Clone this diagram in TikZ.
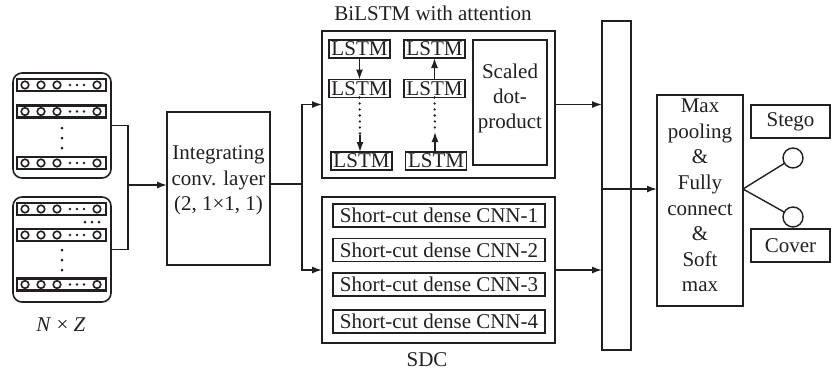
\documentclass[tikz,border=0pt]{standalone}
\usepackage{fontspec}
\setmainfont{Liberation Serif}
\usetikzlibrary{arrows.meta}
\definecolor{ink}{RGB}{35,31,32}
\begin{document}
\begin{tikzpicture}[x=1pt,y=-1pt,
  every node/.style={inner sep=0pt,outer sep=0pt,text=ink,font=\fontsize{21}{25.5}\selectfont},
  box/.style={draw=ink,line width=1.4pt,rectangle},
  tbox/.style={draw=ink,line width=1.9pt,rectangle},
  lstm/.style={draw=ink,line width=1.7pt,rectangle,minimum width=61pt,minimum height=18pt},
  cnn/.style={draw=ink,line width=1.7pt,rectangle,minimum width=212pt,minimum height=23pt},
  conn/.style={draw=ink,line width=1.4pt},
  arr/.style={conn,-{Latex[length=10pt,width=7pt]}},
  dots/.style={draw=ink,line width=2.6pt,line cap=round,dash pattern=on 0pt off 6pt},
  rowbox/.style={draw=ink,line width=2.1pt},
  cell/.style={draw=ink,line width=1.6pt},
  dotc/.style={fill=ink}
]
\useasboundingbox (0,0) rectangle (831,373);

% input matrices
\node[draw=ink,line width=1.6pt,rounded corners=9pt,minimum width=98pt,minimum height=105pt] (m1) at (62,125.5) {};
\node[draw=ink,line width=1.6pt,rounded corners=9pt,minimum width=98pt,minimum height=105pt] (m2) at (62,249.5) {};
\foreach \y in {85,111.5,163,209,235,284.5}{
  \draw[rowbox] (17,\y-6) rectangle (106,\y+6);
  \foreach \x in {25,41,57,97}{\draw[cell] (\x,\y) circle (3.8);}
  \foreach \x in {70,77,84}{\fill[dotc] (\x,\y) circle (1.4);}
}
\foreach \y in {128,138,148,250,260,270}{\fill[dotc] (62,\y) circle (1.5);}
\foreach \x in {85,92,99}{\fill[dotc] (\x,222) circle (1.5);}
\node (nz) at (61,325) {\textit{N} × \textit{Z}};

\coordinate (jin) at (128,185);
\draw[conn] (m1.east) -| (jin);
\draw[conn] (m2.east) -| (jin);

% integrating conv layer
\node[box,minimum width=103pt,minimum height=153pt] (int) at (218.5,188.5) {};
\node[align=center] (intt) at (218.5,180.5) {Integrating\\conv. layer\\(2, 1×1, 1)};
\draw[arr] (jin) -- (jin -| int.west);

\coordinate (jout) at (302,184);
\draw[conn] (jout -| int.east) -- (jout);

% BiLSTM
\node[tbox,minimum width=233pt,minimum height=147pt] (bil) at (438.5,104.5) {};
\node (bilt) at (433,13) {BiLSTM with attention};
\node[lstm] (a1) at (359.5,49) {LSTM};
\node[lstm] (a2) at (359.5,88.5) {LSTM};
\node[lstm] (a3) at (361.5,161) {LSTM};
\node[lstm] (b1) at (434.5,49) {LSTM};
\node[lstm] (b2) at (434.5,88.5) {LSTM};
\node[lstm] (b3) at (436,161) {LSTM};
\node[box,minimum width=74pt,minimum height=125pt] (sd) at (510,102.5) {};
\node[align=center,font=\fontsize{21}{25}\selectfont] (sdt) at (510,98) {Scaled\\dot-\\product};

\draw[arr] (a1.south) -- (a2.north);
\coordinate (ad) at (360,135);
\draw[dots] (a2.south) -- (ad);
\draw[arr] (ad) -- (ad |- a3.north);
\draw[arr] (b2.north) -- (b1.south);
\coordinate (bd) at (435,132);
\draw[dots] (b2.south) -- (bd);
\draw[arr] (bd |- b3.north) -- (bd);

% SDC
\node[tbox,minimum width=233pt,minimum height=146pt] (sdc) at (438.5,270) {};
\node (sdct) at (427,360) {SDC};
\node[cnn] (c1n) at (439,215.5) {Short-cut dense CNN-1};
\node[cnn] (c2n) at (439,250) {Short-cut dense CNN-2};
\node[cnn] (c3n) at (439,284.5) {Short-cut dense CNN-3};
\node[cnn] (c4n) at (439,321.5) {Short-cut dense CNN-4};

\draw[arr] (jout) |- (bil.west);
\draw[arr] (jout) |- (sdc.west);

% concat bar
\node[tbox,minimum width=29pt,minimum height=329pt] (bar) at (616.5,185.5) {};
\draw[arr] (bil.east) -- (bil.east -| bar.west);
\draw[arr] (sdc.east) -- (sdc.east -| bar.west);

% max pooling box
\node[box,minimum width=86pt,minimum height=211pt] (mx) at (700,200.5) {};
\node[align=center,font=\fontsize{21}{25.6}\selectfont] (mxt) at (700,195.5) {Max\\pooling\\\&\\Fully\\connect\\\&\\Soft\\max};
\coordinate (jbar) at (602,189);
\draw[arr] (jbar) -- (jbar -| mx.west);

% outputs
\node[box,minimum width=79pt,minimum height=33pt] (stego) at (790.5,121.5) {Stego};
\node[box,minimum width=79pt,minimum height=33pt] (cover) at (790.5,245.5) {Cover};
\node[draw=ink,line width=1.4pt,circle,minimum size=20pt] (o1) at (793,158) {};
\node[draw=ink,line width=1.4pt,circle,minimum size=20pt] (o2) at (793,217) {};
\coordinate (jmax) at (743,189);
\draw[conn] (jmax) -- (o1);
\draw[conn] (jmax) -- (o2);
\end{tikzpicture}
\end{document}
